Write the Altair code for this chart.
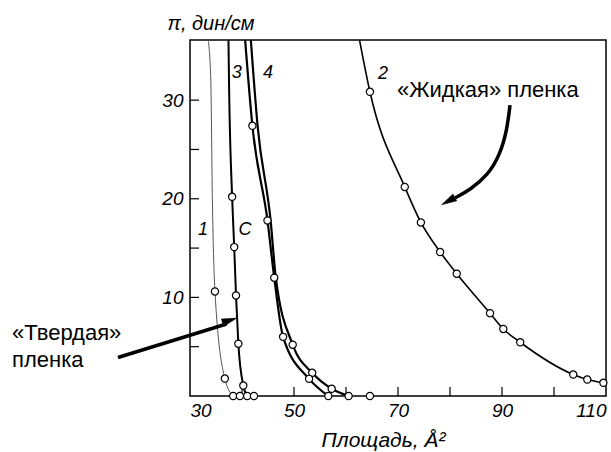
import altair as alt
import pandas as pd

# ---- data ----
# curve 1 (thin)
c1_x = [33.5, 34.0, 34.3, 34.8, 36.7, 38.3]
c1_y = [36.1, 32.0, 20.0, 10.6, 1.77, 0.0]
# curve 3
c3_x = [37.4, 37.5, 38.1, 38.5, 38.85, 39.3, 40.25, 41.0]
c3_y = [36.1, 32.0, 20.2, 15.1, 10.2, 5.3, 1.06, 0.0]
# curve 4 (two close lines)
c4a_x = [40.6, 42.0, 44.9, 46.2, 47.9, 52.9, 56.6]
c4a_y = [36.1, 27.4, 17.8, 12.0, 6.0, 1.74, 0.0]
c4b_x = [41.7, 43.0, 45.5, 46.5, 49.75, 53.5, 57.25, 60.5]
c4b_y = [36.1, 27.4, 17.8, 12.0, 5.2, 2.35, 0.73, 0.0]
# curve 2 ("liquid" film)
c2_x = [62.6, 64.6, 71.3, 74.4, 78.1, 81.3, 87.7, 90.25, 93.5, 103.7, 106.4, 109.5, 110.0]
c2_y = [36.1, 30.85, 21.2, 17.6, 14.6, 12.4, 8.4, 6.8, 5.45, 2.18, 1.67, 1.34, 1.3]

# measured points (open circles)
pt_x = [34.8, 36.7, 38.3, 39.6, 41.0, 42.3,
        38.1, 38.5, 38.85, 39.3, 40.25,
        42.0, 44.9, 46.2, 47.9, 49.75, 53.5, 52.9, 57.25, 56.6, 60.5, 64.6,
        64.6, 71.3, 74.4, 78.1, 81.3, 87.7, 90.25, 93.5, 103.7, 106.4, 109.5]
pt_y = [10.6, 1.77, 0.0, 0.0, 0.0, 0.0,
        20.2, 15.1, 10.2, 5.3, 1.06,
        27.4, 17.8, 12.0, 6.0, 5.2, 2.35, 1.74, 0.73, 0.0, 0.0, 0.0,
        30.85, 21.2, 17.6, 14.6, 12.4, 8.4, 6.8, 5.45, 2.18, 1.67, 1.34]

# curve labels
lab_text = ["1", "3", "4", "C", "2"]
lab_x = [32.5, 39.0, 45.0, 40.6, 67.1]
lab_y = [16.85, 32.8, 32.8, 16.85, 32.7]

# annotations
ann_text = ["«Жидкая» пленка", "«Твердая»", "пленка"]
ann_x = [69.8, -4.23, -4.23]
ann_y = [31.0, 6.43, 3.69]

# arrows
arr1_x = [16.15, 37.0]
arr1_y = [3.9, 7.3]
arr2_x = [91.54, 90.96, 89.6, 87.3, 83.85, 81.0]
arr2_y = [29.5, 26.97, 24.44, 22.4, 20.9, 20.1]
head1_x = [39.0]
head1_y = [7.9]
head2_x = [78.4]
head2_y = [19.4]

xticks = [40, 50, 60, 70, 80, 90, 100]
yticks = [5, 10, 15, 20, 25, 30]
xlabels = [30, 50, 70, 90, 110]
ylabels = [10, 20, 30]

W, H = 416, 356

def df(xs, ys, name=None):
    d = pd.DataFrame({"x": xs, "y": ys})
    d["i"] = range(len(d))
    if name is not None:
        d["curve"] = name
    return d

xs = alt.Scale(domain=[30, 110], nice=False, zero=False)
ys = alt.Scale(domain=[0, 36.1], nice=False, zero=False)

lab_font = "Liberation Sans"

xaxis = alt.Axis(values=xlabels, title="Площадь, Å²", grid=False, ticks=False, tickSize=0,
                 domain=False, labelFlush=True, labelPadding=5,
                 labelFont=lab_font, labelFontStyle="italic", labelFontSize=19, labelColor="black",
                 titleFont=lab_font, titleFontStyle="italic", titleFontWeight="normal",
                 titleFontSize=21, titleColor="black",
                 titleX=193, titleY=44, titleAlign="center", titleBaseline="middle")
yaxis = alt.Axis(values=ylabels, title="π, дин/см", grid=False, ticks=False, tickSize=0,
                 domain=False, labelPadding=7,
                 labelFont=lab_font, labelFontStyle="italic", labelFontSize=19, labelColor="black",
                 titleFont=lab_font, titleFontStyle="italic", titleFontWeight="normal",
                 titleFontSize=20, titleColor="black", titleAngle=0,
                 titleX=-23, titleY=-17, titleAlign="left", titleBaseline="middle")

X = alt.X("x:Q", scale=xs, axis=xaxis)
Y = alt.Y("y:Q", scale=ys, axis=yaxis)

thin = alt.Chart(df(c1_x, c1_y, "1")).mark_line(
    color="#555555", strokeWidth=1, interpolate="monotone"
).encode(x=X, y=Y, order="i:Q")

c3 = alt.Chart(df(c3_x, c3_y, "3")).mark_line(
    color="black", strokeWidth=2, interpolate="monotone"
).encode(x=X, y=Y, order="i:Q")

c4 = alt.Chart(pd.concat([df(c4a_x, c4a_y, "4a"), df(c4b_x, c4b_y, "4b")])).mark_line(
    color="black", strokeWidth=2.2, interpolate="monotone"
).encode(x=X, y=Y, detail="curve:N", order="i:Q")

c2 = alt.Chart(df(c2_x, c2_y, "2")).mark_line(
    color="black", strokeWidth=1.6, interpolate="monotone"
).encode(x=X, y=Y, order="i:Q")

pts = alt.Chart(df(pt_x, pt_y)).mark_point(
    shape="circle", filled=True, fill="white", stroke="black", strokeWidth=1.2,
    size=52, opacity=1
).encode(x=X, y=Y)

ytk = alt.Chart(pd.DataFrame({"y": yticks})).mark_rule(color="black", strokeWidth=1.2).encode(
    y=Y, x=alt.value(0), x2=alt.value(9))
xtk = alt.Chart(pd.DataFrame({"x": xticks})).mark_rule(color="black", strokeWidth=1.2).encode(
    x=X, y=alt.value(H), y2=alt.value(H - 9))

labels = alt.Chart(pd.DataFrame({"x": lab_x, "y": lab_y, "t": lab_text})).mark_text(
    font=lab_font, fontStyle="italic", fontSize=18, color="black", baseline="middle", align="center"
).encode(x=X, y=Y, text="t:N")

ann = alt.Chart(pd.DataFrame({"x": ann_x, "y": ann_y, "t": ann_text})).mark_text(
    font="Liberation Sans", fontSize=22, color="black", baseline="middle", align="left"
).encode(x=X, y=Y, text="t:N")

head_path = "M0,0L0.26,1L-0.26,1Z"

a1 = alt.Chart(df(arr1_x, arr1_y)).mark_line(color="black", strokeWidth=3.5).encode(
    x=X, y=Y, order="i:Q")
a2 = alt.Chart(df(arr2_x, arr2_y)).mark_line(color="black", strokeWidth=3.5, interpolate="basis").encode(
    x=X, y=Y, order="i:Q")
h1 = alt.Chart(df(head1_x, head1_y)).mark_point(
    shape=head_path, filled=True, fill="black", stroke="black", strokeWidth=0.5,
    size=900, angle=72, opacity=1).encode(x=X, y=Y)
h2 = alt.Chart(df(head2_x, head2_y)).mark_point(
    shape=head_path, filled=True, fill="black", stroke="black", strokeWidth=0.5,
    size=900, angle=241, opacity=1).encode(x=X, y=Y)

chart = alt.layer(
    ytk, xtk, thin, c3, c4, c2, pts, labels, ann, a1, a2, h1, h2
).properties(
    width=W, height=H,
    autosize=alt.AutoSizeParams(type="none"),
    padding={"left": 190, "top": 40, "right": 5, "bottom": 56},
    background="white",
).configure_view(
    stroke="black", strokeWidth=1.5
)

chart.save("out.html", embed_options={"renderer": "svg", "actions": False})
